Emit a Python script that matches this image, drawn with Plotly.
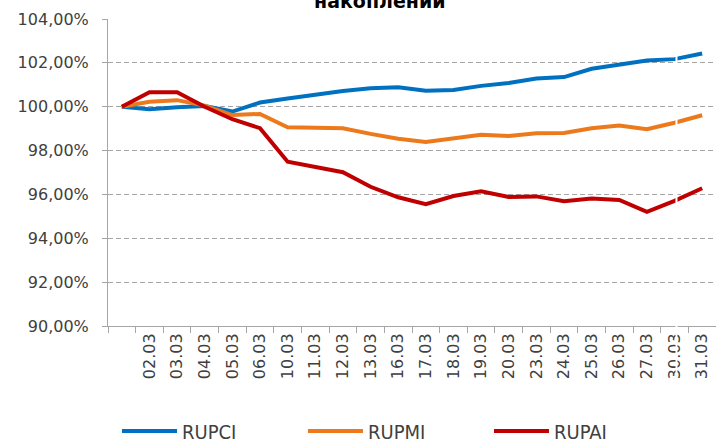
import plotly.graph_objects as go

categories = ["28.02", "02.03", "03.03", "04.03", "05.03", "06.03", "10.03", "11.03",
              "12.03", "13.03", "16.03", "17.03", "18.03", "19.03", "20.03", "23.03",
              "24.03", "25.03", "26.03", "27.03", "30.03", "31.03"]
x_tick_labels = [""] + categories[1:]

rupci = [100.00, 99.89, 99.97, 100.03, 99.78, 100.19, 100.37, 100.55, 100.72, 100.84, 100.89,
         100.73, 100.76, 100.95, 101.08, 101.29, 101.35, 101.73, 101.94, 102.11, 102.17, 102.43]
rupmi = [100.00, 100.23, 100.30, 100.05, 99.62, 99.67, 99.06, 99.02, 99.02, 98.76, 98.54,
         98.39, 98.56, 98.72, 98.66, 98.79, 98.80, 99.02, 99.14, 98.97, 99.27, 99.61]
rupai = [100.00, 100.66, 100.66, 100.00, 99.43, 99.02, 97.49, 97.27, 97.01, 96.35, 95.87,
         95.56, 95.93, 96.14, 95.88, 95.91, 95.69, 95.81, 95.75, 95.21, 95.71, 96.28]

y_tick_values = [90, 92, 94, 96, 98, 100, 102, 104]
y_tick_labels = ["90,00%", "92,00%", "94,00%", "96,00%", "98,00%", "100,00%", "102,00%", "104,00%"]

series = [("RUPCI", rupci, "#0070C0"), ("RUPMI", rupmi, "#EC7A1C"), ("RUPAI", rupai, "#C00000")]

FONT = "DejaVu Sans, Verdana, sans-serif"

fig = go.Figure()
for name, vals, color in series:
    fig.add_trace(go.Scatter(x=categories, y=vals, name=name, mode="lines",
                             line=dict(color=color, width=4)))

fig.update_layout(
    width=716, height=443,
    margin=dict(l=108, r=0, t=19, b=117, autoexpand=False),
    paper_bgcolor="white", plot_bgcolor="white",
    font=dict(family=FONT, size=16, color="#404040"),
    showlegend=True,
    legend=dict(orientation="h", xref="container", yref="container",
                x=0.1634, y=0.027, xanchor="left", yanchor="middle",
                entrywidth=116, entrywidthmode="pixels", itemwidth=55,
                font=dict(family="DejaVu Sans Condensed, Liberation Sans Narrow, DejaVu Sans",
                          size=20, color="#404040"),
                bgcolor="rgba(0,0,0,0)"),
    annotations=[dict(text="<b>накоплений</b>", xref="paper", yref="paper",
                      x=0.448, y=1.0155, xanchor="center", yanchor="bottom",
                      showarrow=False, font=dict(family=FONT, size=19, color="#000000"))],
    shapes=[dict(type="line", xref="paper", yref="paper", x0=0.935, x1=0.935,
                 y0=-0.2, y1=1.0, line=dict(color="white", width=2), layer="above")],
)

fig.update_xaxes(type="category", categoryorder="array", categoryarray=categories,
                 tickmode="array", tickvals=categories, ticktext=x_tick_labels,
                 tickangle=-90, tickson="boundaries", ticks="outside", ticklen=6,
                 tickcolor="#A6A6A6", showline=True, linecolor="#A6A6A6", linewidth=1,
                 showgrid=False, range=[-0.5, len(categories) - 0.5], automargin=False,
                 tickfont=dict(family=FONT, size=16, color="#404040"))
fig.update_yaxes(range=[90, 104], tickmode="array", tickvals=y_tick_values,
                 ticktext=y_tick_labels, ticks="outside", ticklen=5, tickcolor="#A6A6A6",
                 showline=True, linecolor="#A6A6A6", linewidth=1,
                 showgrid=True, gridcolor="#A6A6A6", gridwidth=1, griddash="5px,3px",
                 zeroline=False, ticklabelstandoff=10, automargin=False,
                 tickfont=dict(family=FONT, size=16, color="#404040"))

# remove the browser's default 8px body margin so the figure fills the window
fig.write_html("out.html", config={"displayModeBar": False},
               post_script="document.body.style.margin='0';document.body.style.overflow='hidden';")
